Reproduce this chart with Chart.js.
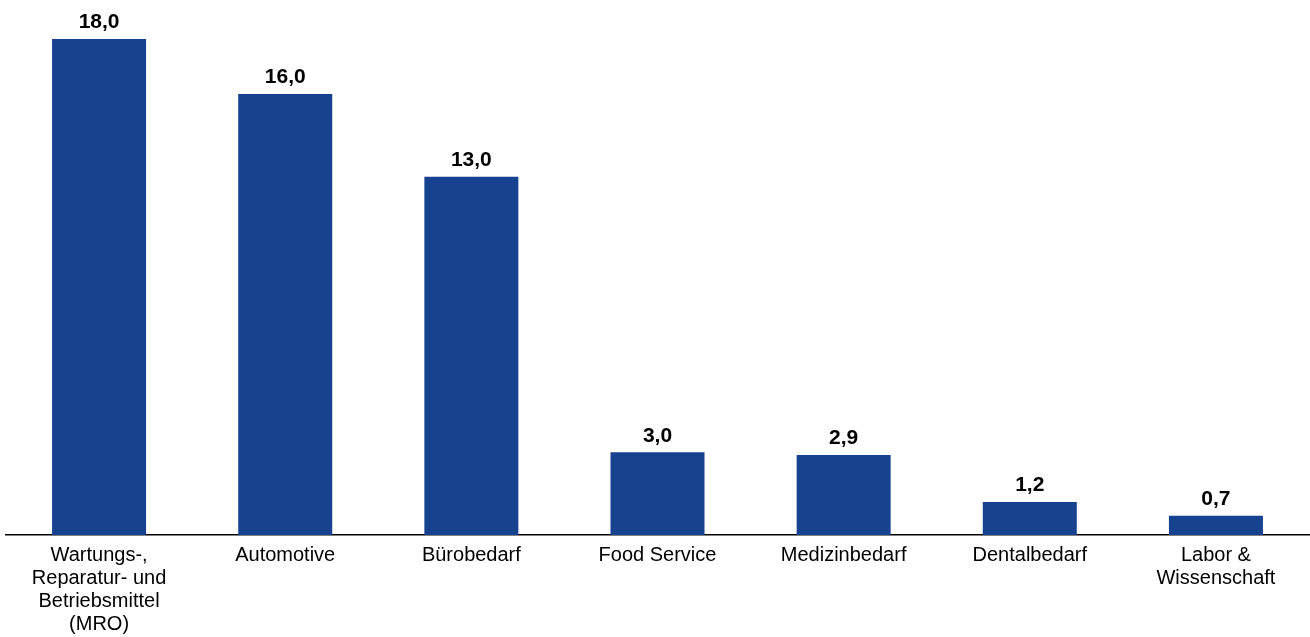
<!DOCTYPE html>
<html>
<head>
<meta charset="utf-8">
<script src="https://cdn.jsdelivr.net/npm/chart.js@4/dist/chart.umd.min.js"></script>
<style>
  html, body { margin: 0; padding: 0; background: #fff; }
  #wrap { width: 1310px; height: 637px; position: relative; }
</style>
</head>
<body>
<div id="wrap"><canvas id="chart"></canvas></div>
<script>
// categories (multi-line labels) and values
const categories = [
  ['Wartungs-,', 'Reparatur- und', 'Betriebsmittel', '(MRO)'],
  'Automotive',
  'Bürobedarf',
  'Food Service',
  'Medizinbedarf',
  'Dentalbedarf',
  ['Labor &', 'Wissenschaft']
];
const values = [18.0, 16.0, 13.0, 3.0, 2.9, 1.2, 0.7];

const barColor = '#17428F';
const fontFamily = '"Liberation Sans", Arial, Helvetica, sans-serif';

// value labels above bars
const valueLabels = {
  id: 'valueLabels',
  afterDatasetsDraw(chart) {
    const ctx  = chart.ctx;
    const meta = chart.getDatasetMeta(0);
    ctx.save();
    ctx.font = 'bold 21px ' + fontFamily;
    ctx.fillStyle = '#000';
    ctx.textAlign = 'center';
    ctx.textBaseline = 'bottom';
    meta.data.forEach((bar, i) => {
      const txt = values[i].toFixed(1).replace('.', ',');
      ctx.fillText(txt, bar.x, bar.y - 6);
    });
    ctx.restore();
  }
};

new Chart(document.getElementById('chart'), {
  type: 'bar',
  data: {
    labels: categories,
    datasets: [{
      data: values,
      backgroundColor: barColor,
      borderWidth: 0,
      categoryPercentage: 1.0,
      barPercentage: 0.505
    }]
  },
  options: {
    responsive: true,
    maintainAspectRatio: false,
    animation: false,
    devicePixelRatio: 1,
    layout: { padding: { left: 6, right: 1, top: 39, bottom: -8 } },
    plugins: {
      legend: { display: false },
      tooltip: { enabled: false }
    },
    scales: {
      x: {
        grid: { display: false, drawTicks: false, tickLength: 0 },
        border: { display: true, color: '#000', width: 1.5 },
        ticks: {
          color: '#000',
          font: { size: 20, family: fontFamily, lineHeight: '23px' },
          padding: 9,
          maxRotation: 0,
          autoSkip: false
        }
      },
      y: {
        display: false,
        min: 0,
        max: 18
      }
    }
  },
  plugins: [valueLabels]
});
</script>
</body>
</html>
